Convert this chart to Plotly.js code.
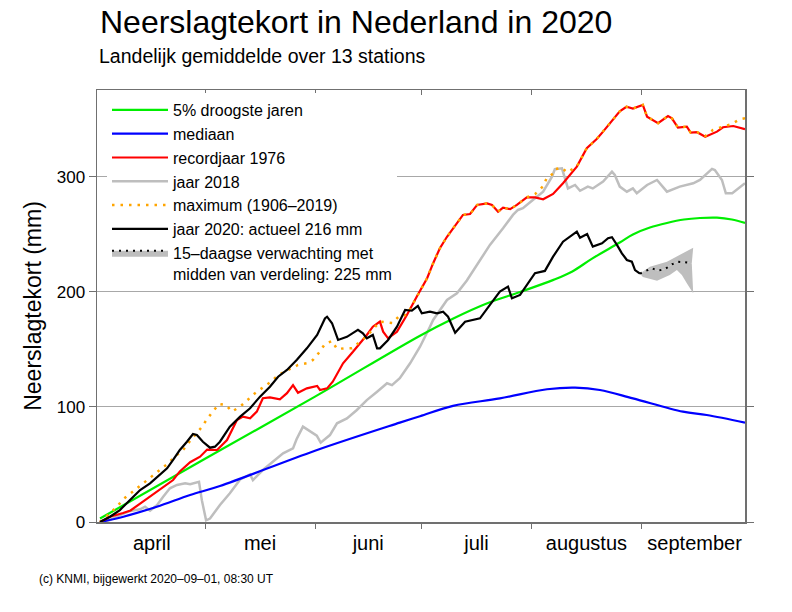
<!DOCTYPE html>
<html><head><meta charset="utf-8">
<script src="https://cdn.plot.ly/plotly-3.0.1.min.js"></script>
<style>html,body{margin:0;padding:0;background:#fff}#chart{width:792px;height:612px}</style>
</head><body><div id="chart"></div>
<script>
// x values: days since 1 April 2020 (1 April = 0)
const monthNames = ['april','mei','juni','juli','augustus','september'];
const monthMid = [15, 45.5, 76, 106.5, 137.5, 168];
const monthStarts = [30, 61, 91, 122, 153];
const yTicks = [0, 100, 200, 300];

const dryDays = [0.4, 30, 61, 90.6, 100, 109.4, 118.8, 128.2, 133.4, 139.1, 146.9, 150.6, 155.4, 160.2, 165, 169.5, 174.3, 178.5, 182.2];
const dryVals = [3, 55, 109, 162, 177, 190, 200, 210.5, 217.6, 229, 243, 250, 256, 260, 263, 264.3, 264.6, 263, 260];

const medDays = [0.4, 7, 16.4, 25.8, 34.2, 61, 84.9, 90.6, 99.9, 113.1, 126.4, 134.3, 141.3, 150.6, 164.7, 171.4, 182.2];
const medVals = [0, 4.6, 13.3, 23.5, 31.3, 62, 86.4, 92, 101, 107.5, 115.4, 116.8, 114.8, 107.5, 95.9, 93, 86.4];

const rec1976Days = [0.4, 3.2, 6.9, 9, 11.7, 14.5, 17.3, 21, 22.9, 25.8, 28.6, 30.6, 33.4, 36.2, 39, 40.7, 42.7, 44.6, 46.3, 48.3, 51.1, 53.1, 54.8, 56.2, 58.7, 61.6, 62.4, 64.4, 66, 68.9, 71.7, 73.7, 75.6, 77.3, 79.3, 80.2, 81.6, 84.1, 86.9, 89.7, 92.6, 94.3, 96.2, 98.2, 99.9, 102.7, 104.7, 106.7, 109.5, 110.9, 112.6, 114, 116, 117.9, 120.7, 123, 125.3, 128.1, 130.9, 134.8, 137.6, 140.4, 142.2, 144.1, 146.9, 148.8, 150.6, 153.4, 154.6, 157.7, 160.5, 161.6, 163.3, 165.8, 166.9, 168.7, 171, 174.3, 176, 178.9, 182.2];
const rec1976Vals = [0, 4.6, 7.8, 10, 16, 22, 27.8, 36.5, 44, 52, 56.8, 63, 62.6, 71.3, 88.7, 91.6, 90.2, 96, 107.6, 108.4, 106.7, 112, 119, 112.4, 116.2, 118.3, 114.8, 116.2, 122, 138, 148, 155.4, 162.6, 169.8, 174.2, 165.5, 159.7, 165.5, 180, 196, 212, 225, 238, 248, 255.4, 267, 267.8, 275.7, 277, 275.7, 269.8, 273.3, 272, 275.7, 282.3, 282.3, 280.6, 285.2, 294.5, 309, 325, 333, 339.4, 346.7, 357, 361, 359.5, 362.6, 352.4, 346.7, 353, 351, 343, 343.7, 338.5, 338.9, 335, 339.4, 343.2, 344.3, 341.5];

const y2018Days = [0.4, 3.2, 6, 8.9, 11.7, 13.1, 14.5, 16.5, 18.2, 20.1, 22.1, 24.4, 25.8, 27.7, 28.3, 29.1, 30.3, 31.4, 32.8, 34.2, 37, 39.9, 42.7, 43.5, 46.3, 49.2, 52, 54.8, 55.8, 57.6, 59.6, 61.5, 62.6, 65.2, 67.2, 70, 72.8, 75.6, 78.5, 81.3, 82.7, 84.9, 87.8, 90.6, 93.4, 94.3, 98.2, 101, 103.8, 106.9, 110.3, 114, 116.8, 118.2, 119.6, 122.4, 125.3, 127.8, 128.6, 130.6, 132.3, 134.3, 135.7, 137.9, 139.3, 142.2, 144.7, 145.5, 146.9, 148.9, 150.6, 151.7, 154.6, 157.4, 160.2, 163.8, 167.6, 169.5, 172.9, 173.7, 175.7, 176.8, 178.6, 182.2];
const y2018Vals = [0, 1.7, 6, 9.6, 11, 13.3, 9.8, 14.8, 22, 29.3, 32.2, 33.6, 32.8, 35, 35, 19, 1.5, 3, 9, 14.8, 25, 37, 41.4, 36.5, 45.2, 52.4, 59.7, 64, 72, 82.9, 78.5, 75, 69, 75.6, 85.8, 90, 97.4, 106, 113.3, 120.6, 119, 125, 138, 152.4, 169.8, 175.7, 193, 198.9, 210, 225, 240.9, 255.4, 267, 271.3, 272.8, 280, 287.2, 300.3, 306.7, 307.5, 290, 293, 288, 291.6, 290, 296, 304.6, 301.7, 291.6, 287.2, 290, 285.8, 293, 297.4, 287.2, 291.6, 294.5, 297.4, 307, 306, 297.4, 285.8, 285.8, 294.5];

const maxDays = [0.4, 3.2, 5.1, 6.9, 9.1, 13.1, 15.4, 19.6, 21.5, 23.8, 25.5, 29.1, 30.6, 32.2, 33.9, 35.9, 37.6, 39.9, 41.8, 44.1, 46.3, 48.6, 50.6, 52.5, 56.2, 58.7, 60.4, 62.1, 63.8, 65.8, 67.2, 69.2, 71.4, 75.4, 79.3, 82.8, 84.7, 86.9, 89.7, 92.6, 94.3, 96.2, 98.2, 99.9, 102.7, 104.7, 106.7, 109.5, 110.9, 112.6, 114, 116, 117.9, 120.7, 123, 125.3, 126.3, 128.1, 128.6, 130.6, 132, 134.8, 137.6, 140.4, 142.2, 144.1, 146.9, 148.8, 150.6, 153.4, 154.6, 157.7, 160.5, 161.6, 163.3, 165.8, 166.9, 168.7, 171, 173.2, 175.9, 178.3, 180.8, 182.2];
const maxVals = [0, 8, 13, 19.7, 25, 35, 40.9, 51, 56.8, 62.6, 69.3, 82.6, 89.7, 95.7, 102.6, 101.7, 96, 100.3, 106, 112, 117, 122, 127.8, 130.7, 136.5, 138, 140.9, 147.2, 154.8, 157.4, 150.4, 151, 151, 161, 174.2, 173, 179, 180, 196, 212, 225, 238, 248, 255.4, 267, 267.8, 275.7, 277, 275.7, 269.8, 273.3, 272, 275.7, 282.3, 285, 292, 299, 303, 306.7, 308, 304, 309, 325, 333, 339.4, 346.7, 357, 361, 359.5, 362.6, 352.4, 346.7, 353, 351, 343, 343.7, 338.5, 338.9, 335.5, 340.9, 343.7, 345.8, 350.2, 351];

const y2020Days = [0.4, 3.2, 6, 8.9, 11.7, 14.5, 16.5, 19.3, 21, 22.9, 24.9, 26.6, 27.7, 29.4, 31.4, 32.8, 34.2, 37, 39.9, 42.7, 45.5, 48.3, 50.6, 53.1, 55.9, 58.7, 61.6, 63.8, 64.4, 65.8, 67.5, 70, 72.3, 73.1, 74.5, 75.6, 77.3, 78.5, 79.3, 81.6, 84.1, 86.4, 88.3, 90, 91.1, 93.4, 95.4, 97.1, 98.5, 100.5, 103.3, 105.5, 107.5, 110.3, 113.1, 115.4, 116.5, 118.8, 120.7, 123, 125.8, 128.1, 130.9, 133.4, 134.8, 135.7, 137.7, 139.3, 141.9, 143.6, 144.7, 146.1, 147.5, 148.9, 150.3, 151.2, 152.6];
const y2020Vals = [0, 4.6, 10.4, 19, 27.8, 33.6, 39.4, 46.7, 54, 62.6, 69.8, 76.5, 75.6, 69.8, 64.6, 65.5, 69.8, 82.9, 91.6, 98.9, 109, 117.6, 126.3, 132.2, 141, 151, 162.6, 177, 178.5, 172.8, 158.3, 161, 165.5, 167, 164, 159.7, 162.6, 151, 151, 158.3, 169.8, 184.3, 183.7, 187.8, 181.5, 182.9, 181.5, 182.9, 178.5, 164.6, 174.2, 175.7, 177.1, 188.7, 200.3, 204.6, 194.5, 197.4, 206, 216.3, 218.3, 230.7, 243.7, 249.6, 252.4, 247.2, 250.4, 239.4, 242.3, 246.7, 247.6, 240.9, 233.6, 227.8, 226.3, 219, 216];

const fcUpDays = [152.6, 155.4, 160.2, 163, 165.8, 167.6];
const fcUpVals = [216, 222, 226.3, 230.7, 235, 238.5];
const fcMidDays = [152.6, 155.9, 157.7, 159.7, 161.6, 163.3, 165.3, 167.2];
const fcMidVals = [216, 220.6, 218.5, 220, 224, 226.3, 225.8, 225];
const fcLowDays = [152.6, 153.4, 157.4, 159.7, 161, 163, 164.4, 165.8, 167.6];
const fcLowVals = [216, 213, 209.8, 213.3, 214.8, 219, 214.8, 207.5, 198.8];

const FONT = 'Liberation Sans, Arial, Helvetica, sans-serif';
const noHover = {hoverinfo: 'skip'};

const traces = [
  Object.assign({x: fcUpDays, y: fcUpVals, mode: 'lines', line: {width: 0, color: 'rgba(0,0,0,0)'}, showlegend: false, legendgroup: 'fc'}, noHover),
  Object.assign({x: fcMidDays, y: fcMidVals, mode: 'lines', fill: 'tonexty', fillcolor: '#BEBEBE',
    line: {color: 'black', width: 2, dash: '2px,5px'}, name: '15–daagse verwachting met<br>midden van verdeling: 225 mm',
    legendgroup: 'fc', legendrank: 7}, noHover),
  Object.assign({x: fcLowDays, y: fcLowVals, mode: 'lines', fill: 'tonexty', fillcolor: '#BEBEBE', line: {width: 0, color: 'rgba(0,0,0,0)'}, showlegend: false, legendgroup: 'fc'}, noHover),
  Object.assign({x: y2018Days, y: y2018Vals, mode: 'lines', line: {color: '#BEBEBE', width: 2.5}, name: 'jaar 2018', legendgroup: 'g4', legendrank: 4}, noHover),
  Object.assign({x: medDays, y: medVals, mode: 'lines', line: {color: '#0000FF', width: 2.2, shape: 'spline'}, name: 'mediaan', legendgroup: 'g2', legendrank: 2}, noHover),
  Object.assign({x: dryDays, y: dryVals, mode: 'lines', line: {color: '#00EE00', width: 2.2, shape: 'spline'}, name: '5% droogste jaren', legendgroup: 'g1', legendrank: 1}, noHover),
  Object.assign({x: rec1976Days, y: rec1976Vals, mode: 'lines', line: {color: '#FF0000', width: 2.2}, name: 'recordjaar 1976', legendgroup: 'g3', legendrank: 3}, noHover),
  Object.assign({x: maxDays, y: maxVals, mode: 'lines', line: {color: '#FFA500', width: 2.5, dash: '2.5px,6px'}, name: 'maximum (1906–2019)', legendgroup: 'g5', legendrank: 5}, noHover),
  Object.assign({x: y2020Days, y: y2020Vals, mode: 'lines', line: {color: 'black', width: 2.2}, name: 'jaar 2020: actueel 216 mm', legendgroup: 'g6', legendrank: 6}, noHover),
  Object.assign({x: [], y: [], xaxis: 'x2', mode: 'lines', showlegend: false}, noHover)
];

const axisColor = '#707070';
const xRange = [-0.45, 182.2];
const layout = {
  width: 792, height: 612,
  margin: {l: 97, r: 47, t: 90, b: 90, pad: 0},
  paper_bgcolor: 'white', plot_bgcolor: 'white',
  hovermode: false,
  font: {family: FONT, color: 'black'},
  title: {text: 'Neerslagtekort in Nederland in 2020', font: {family: FONT, size: 32, color: 'black'},
    x: 100/792, xref: 'container', xanchor: 'left', y: 1 - 22/612, yref: 'container', yanchor: 'middle'},
  xaxis: {range: xRange, showgrid: false, zeroline: false, showline: true, linecolor: axisColor, linewidth: 1.5, mirror: true,
    tickmode: 'array', tickvals: monthMid, ticktext: monthNames, ticks: '', ticklabelstandoff: 2,
    tickfont: {size: 20, family: FONT, color: 'black'},
    minor: {tickmode: 'array', tickvals: monthStarts, ticks: 'outside', ticklen: 5, tickwidth: 1, tickcolor: axisColor, showgrid: false}},
  xaxis2: {range: xRange, overlaying: 'x', side: 'top', anchor: 'y', showgrid: false, zeroline: false, showline: false,
    tickmode: 'array', tickvals: monthStarts, ticks: 'inside', ticklen: 5, tickwidth: 1, tickcolor: axisColor, showticklabels: false},
  yaxis: {range: [0, 375.6], tickmode: 'array', tickvals: yTicks, ticks: 'outside', ticklen: 7, tickwidth: 1, tickcolor: axisColor,
    showline: true, linecolor: axisColor, linewidth: 1.5, mirror: 'ticks', zeroline: false,
    showgrid: true, gridcolor: '#A8A8A8', gridwidth: 1,
    tickfont: {size: 17, family: FONT, color: 'black'},
    title: {text: 'Neerslagtekort (mm)', font: {size: 23, family: FONT, color: 'black'}, standoff: 8}},
  legend: {x: 10/648, y: 1 - 3/432, xanchor: 'left', yanchor: 'top', bgcolor: 'white', borderwidth: 0,
    font: {size: 16, family: FONT, color: 'black'}, traceorder: 'grouped', tracegroupgap: 0, itemwidth: 56, valign: 'top'},
  annotations: [
    {text: 'Landelijk gemiddelde over 13 stations', xref: 'paper', yref: 'paper', x: 0, y: (522-56)/432,
      xanchor: 'left', yanchor: 'middle', showarrow: false, font: {size: 19.5, family: FONT, color: 'black'}},
    {text: '(c) KNMI, bijgewerkt 2020–09–01, 08:30 UT', xref: 'paper', yref: 'paper', x: (37-97)/648, y: (522-579)/432,
      xanchor: 'left', yanchor: 'middle', showarrow: false, font: {size: 12, family: FONT, color: 'black'}}
  ]
};

Plotly.newPlot('chart', traces, layout, {displayModeBar: false, staticPlot: true});
</script>
</body></html>
